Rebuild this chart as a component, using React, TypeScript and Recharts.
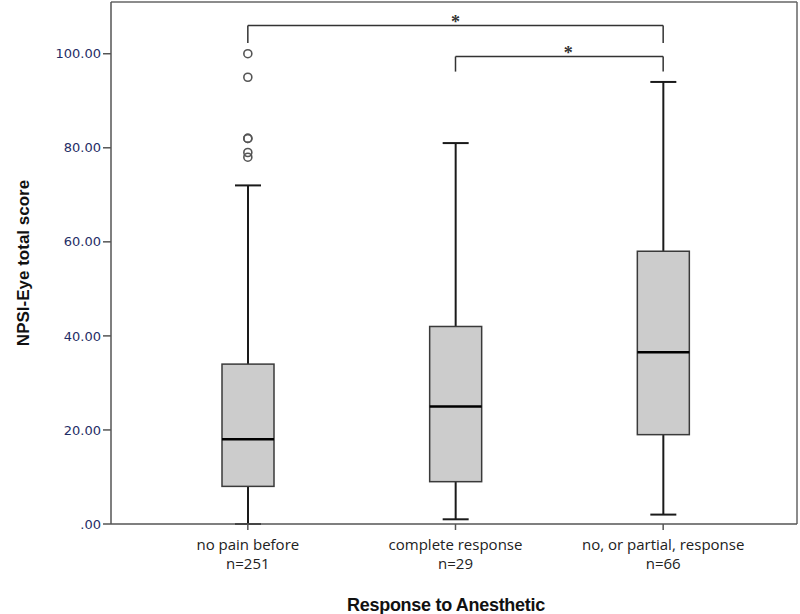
import React from 'react';
import {
  ComposedChart,
  Bar,
  Scatter,
  XAxis,
  YAxis,
  ReferenceLine,
  CartesianGrid,
} from 'recharts';

// groups on the x axis
const categories = ['no pain before', 'complete response', 'no, or partial, response'];
const counts = [251, 29, 66];

// five-number summaries
const whiskerLow = [0, 1, 2];
const q1 = [8, 9, 19];
const median = [18, 25, 36.5];
const q3 = [34, 42, 58];
const whiskerHigh = [72, 81, 94];

// outliers (all in the first group)
const outlierCats = ['no pain before', 'no pain before', 'no pain before', 'no pain before', 'no pain before', 'no pain before'];
const outlierValues = [100, 95, 82, 82, 79, 78];

const yTicks = [0, 20, 40, 60, 80, 100];

const data = categories.map((cat, i) => ({
  cat,
  low: whiskerLow[i],
  q1: q1[i],
  median: median[i],
  q3: q3[i],
  high: whiskerHigh[i],
}));

const outliers = outlierValues.map((v, i) => ({ cat: outlierCats[i], value: v }));

const BoxShape = (props: any) => {
  const { x, y, width, height, payload } = props;
  const { low, high } = payload;
  // map a value to pixels using the bar's own (scaled) low/high ends
  const py = (v: number) => (high === low ? y : y + (height * (high - v)) / (high - low));
  const cx = x + width / 2;
  const cap = 13;
  return (
    <g>
      <line x1={cx} x2={cx} y1={py(high)} y2={py(payload.q3)} stroke="#1a1a1a" strokeWidth={2} />
      <line x1={cx} x2={cx} y1={py(payload.q1)} y2={py(low)} stroke="#1a1a1a" strokeWidth={2} />
      <line x1={cx - cap} x2={cx + cap} y1={py(high)} y2={py(high)} stroke="#1a1a1a" strokeWidth={2} />
      <line x1={cx - cap} x2={cx + cap} y1={py(low)} y2={py(low)} stroke="#1a1a1a" strokeWidth={2} />
      <rect
        x={x}
        y={py(payload.q3)}
        width={width}
        height={py(payload.q1) - py(payload.q3)}
        fill="#cccccc"
        stroke="#3a3a3a"
        strokeWidth={1.5}
      />
      <line x1={x} x2={x + width} y1={py(payload.median)} y2={py(payload.median)} stroke="#000" strokeWidth={2.5} />
    </g>
  );
};

const CatTick = (props: any) => {
  const { x, y, payload } = props;
  const i = categories.indexOf(payload.value);
  return (
    <g>
      <text x={x} y={y + 18} textAnchor="middle" fontFamily="Open Sans" fontSize={15} fill="#222">
        {payload.value}
      </text>
      <text x={x} y={y + 37} textAnchor="middle" fontFamily="Open Sans" fontSize={15} fill="#222">
        n={counts[i]}
      </text>
    </g>
  );
};

const fmtY = (v: number) => (v === 0 ? '.00' : v.toFixed(2));

const bracket = '#333';

export default function App() {
  return (
    <div style={{ position: 'absolute', left: 0, top: 0, width: 800, height: 614, background: '#fff' }}>
      <ComposedChart width={800} height={614} data={data} margin={{ top: 2, right: 3, bottom: 0, left: 0 }}>
        {/* plot frame: top and right edges */}
        <CartesianGrid
          stroke="#666"
          strokeWidth={1.5}
          horizontalCoordinatesGenerator={({ offset }: any) => [offset.top]}
          verticalCoordinatesGenerator={({ offset }: any) => [offset.left + offset.width]}
        />
        <XAxis
          dataKey="cat"
          type="category"
          allowDuplicatedCategory={false}
          padding={{ left: 33, right: 30 }}
          height={90}
          tick={<CatTick />}
          tickSize={6}
          stroke="#555"
          strokeWidth={1.5}
          label={{
            content: ({ viewBox }: any) => (
              <text
                x={viewBox.x + viewBox.width / 2 - 8}
                y={viewBox.y + 87}
                textAnchor="middle"
                fontFamily="Liberation Sans"
                fontWeight="bold"
                fontSize={18}
                letterSpacing={-0.3}
                fill="#111"
              >
                Response to Anesthetic
              </text>
            ),
          }}
        />
        <YAxis
          type="number"
          domain={[0, 111]}
          ticks={yTicks}
          tickFormatter={fmtY}
          width={111}
          tickSize={8}
          tick={{ fontFamily: 'DejaVu Sans', fontSize: 13, fill: '#1f2d66' }}
          stroke="#555"
          strokeWidth={1.5}
          label={{
            content: ({ viewBox }: any) => {
              const lx = viewBox.x + 23;
              const ly = viewBox.y + viewBox.height / 2;
              return (
                <text
                  x={lx}
                  y={ly}
                  transform={`rotate(-90, ${lx}, ${ly})`}
                  textAnchor="middle"
                  dominantBaseline="central"
                  fontFamily="Liberation Sans"
                  fontWeight="bold"
                  fontSize={17}
                  fill="#111"
                >
                  NPSI-Eye total score
                </text>
              );
            },
          }}
        />
        <Bar
          dataKey={(d: any) => [d.low, d.high]}
          barSize={52}
          shape={<BoxShape />}
          isAnimationActive={false}
        />
        <Scatter
          data={outliers}
          dataKey="value"
          isAnimationActive={false}
          shape={(p: any) => <circle cx={p.cx} cy={p.cy} r={4} fill="none" stroke="#555" strokeWidth={1.6} />}
        />
        {/* significance brackets */}
        <ReferenceLine
          segment={[{ x: categories[0], y: 106 }, { x: categories[2], y: 106 }]}
          stroke={bracket}
          strokeWidth={1.5}
          label={{ value: '*', position: 'top', offset: -2, fontSize: 18, fontWeight: 'bold', fill: '#333' }}
        />
        <ReferenceLine segment={[{ x: categories[0], y: 106 }, { x: categories[0], y: 102.3 }]} stroke={bracket} strokeWidth={1.5} />
        <ReferenceLine segment={[{ x: categories[2], y: 106 }, { x: categories[2], y: 102.3 }]} stroke={bracket} strokeWidth={1.5} />
        <ReferenceLine
          segment={[{ x: categories[1], y: 99.4 }, { x: categories[2], y: 99.4 }]}
          stroke={bracket}
          strokeWidth={1.5}
          label={{ value: '*', position: 'top', offset: -2, dx: 9, fontSize: 18, fontWeight: 'bold', fill: '#333' }}
        />
        <ReferenceLine segment={[{ x: categories[1], y: 99.4 }, { x: categories[1], y: 96.2 }]} stroke={bracket} strokeWidth={1.5} />
        <ReferenceLine segment={[{ x: categories[2], y: 99.4 }, { x: categories[2], y: 96.2 }]} stroke={bracket} strokeWidth={1.5} />
      </ComposedChart>
    </div>
  );
}
